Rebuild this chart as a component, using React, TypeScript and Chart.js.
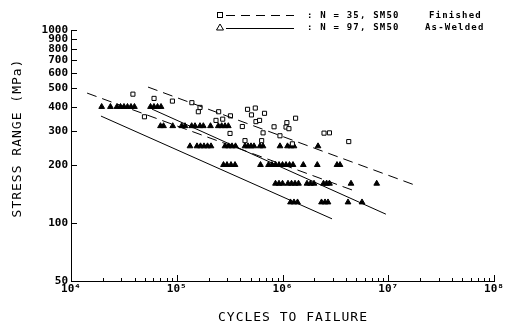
import React, { useEffect, useRef } from 'react';
import { Chart, registerables } from 'chart.js';

Chart.register(...registerables);

// ---- Axis ticks ----
const yTickValues = [50, 100, 200, 300, 400, 500, 600, 700, 800, 900, 1000];
const xDecades = [1e4, 1e5, 1e6, 1e7, 1e8];
const xTickLabels = ['10⁴', '10⁵', '10⁶', '10⁷', '10⁸'];
const xMinorMultipliers = [2, 3, 4, 5, 6, 7, 8, 9];

// ---- Finished (squares) ----
const finishedCycles = [
  38500, 49500, 61000, 91000, 139000, 166000, 160000, 249000, 235000, 272000,
  322000, 319000, 417000, 467000, 553000, 509000, 676000, 561000, 607000, 832000,
  655000, 946000, 1100000, 1080000, 1150000, 1330000, 635000, 442000, 1240000,
  2470000, 2780000, 4230000,
];
const finishedStress = [
  465, 355, 442, 428, 420, 397, 377, 377, 340, 345,
  359, 291, 316, 388, 394, 363, 370, 335, 340, 315,
  293, 283, 331, 314, 308, 349, 267, 267, 257,
  292, 293, 264,
];

// ---- As-Welded (triangles), grouped by stress level ----
const weldedLevels = [400, 318, 250, 200, 160, 128];
const welded400Cycles = [19500, 23600, 27200, 29400, 31700, 34200, 36900, 39800, 56500, 60900, 65800, 71000];
const welded318Cycles = [70200, 75000, 91600, 111400, 119700, 138400, 148800, 165900, 178300, 208500, 247100, 266100, 285900, 307300];
const welded250Cycles = [133400, 155400, 167700, 181000, 195400, 210800, 285900, 308600, 333100, 359400, 442000, 471900, 503500, 537700, 612400, 654000, 947000, 1115000, 1203000, 1284000, 2167000];
const welded200Cycles = [276700, 298600, 325800, 355600, 619400, 737400, 795600, 858500, 926700, 1000000, 1079000, 1165000, 1257000, 1573000, 2133000, 3276000, 3498000];
const welded160Cycles = [858500, 926700, 1000000, 1127000, 1217000, 1313000, 1417000, 1705000, 1840000, 1986000, 2442000, 2607000, 2783000, 4445000, 7779000];
const welded128Cycles = [1190000, 1284000, 1387000, 2338000, 2523000, 2693000, 4163000, 5648000];

// ---- Regression / bound lines ----
const finishedUpperCycles = [53500, 19100000];
const finishedUpperStress = [506, 155];
const finishedLowerCycles = [14200, 5070000];
const finishedLowerStress = [471, 145];
const weldedUpperCycles = [58300, 9500000];
const weldedUpperStress = [389, 111];
const weldedLowerCycles = [19200, 2940000];
const weldedLowerStress = [358, 105];

const MONO = '"DejaVu Sans Mono", monospace';

function pts(xs: number[], ys: number[]) {
  return xs.map((x, i) => ({ x, y: ys[i] }));
}

function levelPts(xs: number[], level: number) {
  return xs.map((x) => ({ x, y: level }));
}

const decorPlugin = {
  id: 'decor',
  afterDraw(chart: any) {
    const ctx: CanvasRenderingContext2D = chart.ctx;
    const xs = chart.scales.x;
    const ys = chart.scales.y;
    const area = chart.chartArea;
    ctx.save();
    ctx.strokeStyle = '#000';
    ctx.fillStyle = '#000';
    ctx.lineWidth = 1;

    // inward y ticks
    for (const v of yTickValues) {
      const py = Math.round(ys.getPixelForValue(v)) + 0.5;
      ctx.beginPath();
      ctx.moveTo(area.left, py);
      ctx.lineTo(area.left + 6, py);
      ctx.stroke();
    }
    // inward x ticks
    xDecades.forEach((d, i) => {
      const px = Math.round(xs.getPixelForValue(d)) + 0.5;
      ctx.beginPath();
      ctx.moveTo(px, area.bottom);
      ctx.lineTo(px, area.bottom - 6);
      ctx.stroke();
      if (i < xDecades.length - 1) {
        for (const m of xMinorMultipliers) {
          const mx = Math.round(xs.getPixelForValue(d * m)) + 0.5;
          ctx.beginPath();
          ctx.moveTo(mx, area.bottom);
          ctx.lineTo(mx, area.bottom - 3);
          ctx.stroke();
        }
      }
    });

    // axis titles
    (ctx as any).letterSpacing = '1px';
    ctx.font = `13px ${MONO}`;
    ctx.textAlign = 'center';
    ctx.textBaseline = 'middle';
    ctx.fillText('CYCLES TO FAILURE', 293, 318);
    ctx.save();
    ctx.translate(18, 138);
    ctx.rotate(-Math.PI / 2);
    ctx.fillText('STRESS RANGE (MPa)', 0, 0);
    ctx.restore();

    // legend
    // row 1: open square + dashed line
    ctx.lineWidth = 1;
    ctx.strokeRect(217.5, 12.5, 5, 5);
    ctx.setLineDash([9, 6]);
    ctx.beginPath();
    ctx.moveTo(226, 15.5);
    ctx.lineTo(294, 15.5);
    ctx.stroke();
    ctx.setLineDash([]);
    // row 2: filled triangle + solid line
    ctx.beginPath();
    ctx.moveTo(220, 24);
    ctx.lineTo(223.5, 30);
    ctx.lineTo(216.5, 30);
    ctx.closePath();
    ctx.stroke();
    ctx.beginPath();
    ctx.moveTo(226, 28.5);
    ctx.lineTo(294, 28.5);
    ctx.stroke();

    (ctx as any).letterSpacing = '1.2px';
    ctx.font = `bold 9px ${MONO}`;
    ctx.textAlign = 'left';
    ctx.textBaseline = 'middle';
    ctx.fillText(': N = 35, SM50', 307, 15.5);
    ctx.fillText('Finished', 429, 15.5);
    ctx.fillText(': N = 97, SM50', 307, 28);
    ctx.fillText('As-Welded', 425, 28);
    (ctx as any).letterSpacing = '0px';
    ctx.restore();
  },
};

export default function App() {
  const ref = useRef<HTMLCanvasElement | null>(null);

  useEffect(() => {
    if (!ref.current) return;
    Chart.defaults.color = '#000';
    const lineBase = {
      showLine: true,
      borderColor: '#000',
      borderWidth: 1,
      pointRadius: 0,
      fill: false,
      tension: 0,
    };
    const triStyle = {
      pointStyle: 'triangle',
      pointRadius: 3.3,
      backgroundColor: '#000',
      borderColor: '#000',
      borderWidth: 1,
      showLine: false,
    };
    const chart = new Chart(ref.current, {
      type: 'scatter',
      data: {
        datasets: [
          { label: 'Finished upper', data: pts(finishedUpperCycles, finishedUpperStress), borderDash: [10, 6], ...lineBase },
          { label: 'Finished lower', data: pts(finishedLowerCycles, finishedLowerStress), borderDash: [10, 6], ...lineBase },
          { label: 'As-Welded upper', data: pts(weldedUpperCycles, weldedUpperStress), ...lineBase },
          { label: 'As-Welded lower', data: pts(weldedLowerCycles, weldedLowerStress), ...lineBase },
          {
            label: 'Finished',
            data: pts(finishedCycles, finishedStress),
            pointStyle: 'rect',
            pointRadius: 2.9,
            backgroundColor: '#fff',
            borderColor: '#000',
            borderWidth: 1,
            showLine: false,
          },
          { label: 'AW400', data: levelPts(welded400Cycles, weldedLevels[0]), ...triStyle },
          { label: 'AW318', data: levelPts(welded318Cycles, weldedLevels[1]), ...triStyle },
          { label: 'AW250', data: levelPts(welded250Cycles, weldedLevels[2]), ...triStyle },
          { label: 'AW200', data: levelPts(welded200Cycles, weldedLevels[3]), ...triStyle },
          { label: 'AW160', data: levelPts(welded160Cycles, weldedLevels[4]), ...triStyle },
          { label: 'AW128', data: levelPts(welded128Cycles, weldedLevels[5]), ...triStyle },
        ] as any,
      },
      options: {
        responsive: false,
        animation: false,
        devicePixelRatio: 1,
        layout: { padding: { top: 30, right: 16, left: 0, bottom: 0 } },
        plugins: {
          legend: { display: false },
          tooltip: { enabled: false },
        },
        scales: {
          x: {
            type: 'logarithmic',
            min: 1e4,
            max: 1e8,
            afterBuildTicks: (s: any) => {
              s.ticks = xDecades.map((v) => ({ value: v }));
            },
            afterFit: (s: any) => {
              s.height = 49;
            },
            ticks: {
              autoSkip: false,
              maxRotation: 0,
              padding: 2,
              color: '#000',
              font: { family: MONO, size: 11, weight: 'bold' },
              callback: (_v: any, i: number) => xTickLabels[i],
            },
            grid: { display: true, drawOnChartArea: false, drawTicks: false },
            border: { display: true, color: '#000', width: 1 },
          },
          y: {
            type: 'logarithmic',
            min: 50,
            max: 1000,
            afterBuildTicks: (s: any) => {
              s.ticks = yTickValues.map((v) => ({ value: v }));
            },
            afterFit: (s: any) => {
              s.width = 71;
            },
            ticks: {
              autoSkip: false,
              padding: 3,
              color: '#000',
              font: { family: MONO, size: 11, weight: 'bold' },
              callback: (v: any) => String(v),
            },
            grid: { display: true, drawOnChartArea: false, drawTicks: false },
            border: { display: true, color: '#000', width: 1 },
          },
        },
      } as any,
      plugins: [decorPlugin],
    });
    return () => chart.destroy();
  }, []);

  return (
    <div style={{ position: 'fixed', left: 0, top: 0, width: 510, height: 330, background: '#fff' }}>
      <canvas ref={ref} width={510} height={330} style={{ width: 510, height: 330, display: 'block' }} />
    </div>
  );
}
